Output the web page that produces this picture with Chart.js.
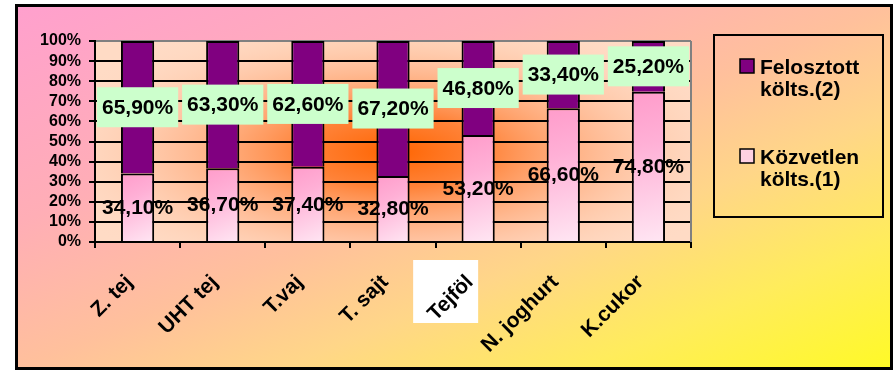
<!DOCTYPE html>
<html>
<head>
<meta charset="utf-8">
<script src="https://cdn.jsdelivr.net/npm/chart.js@4/dist/chart.umd.min.js"></script>
<style>
  html, body { margin: 0; padding: 0; background: #fff; }
  #c { display: block; }
</style>
</head>
<body>
<canvas id="c" width="894" height="374" style="width:894px;height:374px"></canvas>
<script>
// Termékek és a költségek megoszlása (%)
const categories = ['Z. tej', 'UHT tej', 'T.vaj', 'T. sajt', 'Tejföl', 'N. joghurt', 'K.cukor'];
const kozvetlen  = [34.1, 36.7, 37.4, 32.8, 53.2, 66.6, 74.8];
const felosztott = [65.9, 63.3, 62.6, 67.2, 46.8, 33.4, 25.2];
const seriesNames = ['Közvetlen költs.(1)', 'Felosztott költs.(2)'];
const legendLines = [['Felosztott', 'költs.(2)'], ['Közvetlen', 'költs.(1)']];
const highlightedLabel = 'Tejföl';

const FONT = '"Liberation Sans", Arial, sans-serif';
const PURPLE = '#800080';
const fmtPct = v => v.toFixed(2).replace('.', ',') + '%';

// pink bar fill: diagonal fade from pink to pale pink, per bar
function pinkFill(c) {
  const chart = c.chart;
  const xs = chart.scales.x, ys = chart.scales.y;
  if (!xs || !ys || !chart.chartArea) return '#FFC0DD';
  const x = xs.getPixelForValue(c.dataIndex);
  const yTop = ys.getPixelForValue(c.raw);
  const yBot = ys.getPixelForValue(0);
  const g = chart.ctx.createLinearGradient(x - 16, yTop, x + 16, yBot);
  g.addColorStop(0, '#FF9CCB');
  g.addColorStop(0.35, '#FFB0D6');
  g.addColorStop(1, '#FFE6F3');
  return g;
}

const backdropPlugin = {
  id: 'backdrop',
  beforeDraw(chart) {
    const { ctx, chartArea: a } = chart;
    const L = 15, T = 4, R = 892, B = 370;
    ctx.save();
    ctx.fillStyle = '#fff';
    ctx.fillRect(0, 0, chart.width, chart.height);

    // frame background: pink top-left to yellow bottom-right
    const w = R - L, h = B - T;
    const n = Math.hypot(w, h);
    const len = 2 * w * h / n;
    const g = ctx.createLinearGradient(L, T, L + h / n * len, T + w / n * len);
    g.addColorStop(0, '#FFA0CE');
    g.addColorStop(0.3, '#FFAEB6');
    g.addColorStop(0.5, '#FFC09C');
    g.addColorStop(0.65, '#FFD688');
    g.addColorStop(0.82, '#FFEC5C');
    g.addColorStop(1, '#FFFA26');
    ctx.fillStyle = g;
    ctx.fillRect(L, T, w, h);

    // plot area: peach with an orange glow
    ctx.save();
    ctx.beginPath();
    ctx.rect(a.left, a.top, a.width, a.height);
    ctx.clip();
    ctx.fillStyle = '#FFDBC5';
    ctx.fillRect(a.left, a.top, a.width, a.height);
    ctx.translate(a.left + a.width * 0.5, a.top + a.height * 0.55);
    ctx.scale(1, 0.4);
    const rg = ctx.createRadialGradient(0, 0, 0, 0, 0, 360);
    rg.addColorStop(0, 'rgba(255,100,0,1)');
    rg.addColorStop(0.25, 'rgba(255,118,36,0.88)');
    rg.addColorStop(0.6, 'rgba(255,165,115,0.5)');
    rg.addColorStop(1, 'rgba(255,219,197,0)');
    ctx.fillStyle = rg;
    ctx.fillRect(-600, -900, 1200, 1800);
    ctx.restore();

    // white patch behind one category label
    const xs = chart.scales.x;
    const idx = categories.indexOf(highlightedLabel);
    if (idx >= 0) {
      const tx = xs.getPixelForValue(idx);
      ctx.fillStyle = '#fff';
      ctx.fillRect(tx - 65, xs.top + 18, 65, 63);
    }
    ctx.restore();
  },
  beforeDatasetsDraw(chart) {
    const { ctx, chartArea: a } = chart;
    ctx.save();
    ctx.strokeStyle = '#808080';
    ctx.lineWidth = 2;
    ctx.beginPath();
    ctx.moveTo(a.right, a.top);
    ctx.lineTo(a.right, a.bottom);
    ctx.stroke();
    ctx.restore();
  },
  afterDraw(chart) {
    const ctx = chart.ctx;
    ctx.save();
    // outer frame
    ctx.strokeStyle = '#000';
    ctx.lineWidth = 3;
    ctx.strokeRect(16.5, 5.5, 875, 363);

    // legend
    const a = chart.chartArea;
    const lx = a.right + 23, ly = 35;
    ctx.lineWidth = 2;
    ctx.strokeRect(lx, ly, 169, 182);
    const order = [1, 0];
    const tops = [59, 149];
    ctx.font = 'bold 21px ' + FONT;
    ctx.textAlign = 'left';
    ctx.textBaseline = 'alphabetic';
    order.forEach((di, k) => {
      const ds = chart.data.datasets[di];
      const top = tops[k];
      ctx.fillStyle = ds.legendColor;
      ctx.fillRect(lx + 26, top, 14, 14);
      ctx.lineWidth = 1.5;
      ctx.strokeStyle = '#000';
      ctx.strokeRect(lx + 26, top, 14, 14);
      ctx.fillStyle = '#000';
      legendLines[k].forEach((line, j) => {
        ctx.fillText(line, lx + 46, top + 15 + j * 22);
      });
    });
    ctx.restore();
  }
};

const valueLabels = {
  id: 'valueLabels',
  afterDatasetsDraw(chart) {
    const ctx = chart.ctx;
    ctx.save();
    ctx.font = 'bold 21px ' + FONT;
    ctx.textAlign = 'center';
    ctx.textBaseline = 'middle';
    chart.data.datasets.forEach((ds, di) => {
      const meta = chart.getDatasetMeta(di);
      meta.data.forEach((bar, i) => {
        const p = bar.getProps(['x', 'y', 'base'], true);
        const cy = (p.y + p.base) / 2;
        const text = fmtPct(ds.data[i]);
        if (ds.labelBox) {
          const w = ctx.measureText(text).width + 10;
          ctx.fillStyle = ds.labelBox;
          ctx.fillRect(p.x - w / 2, cy - 20, w, 40);
        }
        ctx.fillStyle = '#000';
        ctx.fillText(text, p.x, cy + 1);
      });
    });
    ctx.restore();
  }
};

new Chart(document.getElementById('c'), {
  type: 'bar',
  data: {
    labels: categories,
    datasets: [
      {
        label: seriesNames[0],
        data: kozvetlen,
        backgroundColor: pinkFill,
        legendColor: '#FFD0E2',
        borderColor: '#000',
        borderWidth: 2,
        barPercentage: 0.39,
        categoryPercentage: 1
      },
      {
        label: seriesNames[1],
        data: felosztott,
        backgroundColor: PURPLE,
        legendColor: PURPLE,
        labelBox: '#CCFFCC',
        borderColor: '#000',
        borderWidth: 2,
        barPercentage: 0.39,
        categoryPercentage: 1
      }
    ]
  },
  options: {
    responsive: false,
    animation: false,
    devicePixelRatio: 1,
    layout: { padding: { left: 15, top: 41, right: 203, bottom: 0 } },
    plugins: {
      legend: { display: false },
      tooltip: { enabled: false },
      title: { display: false }
    },
    scales: {
      x: {
        stacked: true,
        afterFit: s => { s.height = 132; },
        border: { display: true, color: '#000', width: 2 },
        grid: {
          display: true,
          drawOnChartArea: false,
          drawTicks: true,
          tickLength: 6,
          color: '#000',
          lineWidth: 2,
          offset: true
        },
        ticks: {
          autoSkip: false,
          maxRotation: 45,
          minRotation: 45,
          padding: 22,
          labelOffset: -8,
          color: '#000',
          font: { family: FONT, size: 21, weight: 'bold' }
        }
      },
      y: {
        stacked: true,
        min: 0,
        max: 100,
        afterFit: s => { s.width = 80; },
        border: { display: true, color: '#000', width: 2 },
        grid: {
          color: c => (c.tick && c.tick.value === 100 ? '#808080' : '#000'),
          tickColor: '#000',
          lineWidth: 2,
          tickLength: 6
        },
        ticks: {
          stepSize: 10,
          autoSkip: false,
          padding: 8,
          color: '#000',
          font: { family: FONT, size: 16, weight: 'bold' },
          callback: v => v + '%'
        }
      }
    }
  },
  plugins: [backdropPlugin, valueLabels]
});
</script>
</body>
</html>
